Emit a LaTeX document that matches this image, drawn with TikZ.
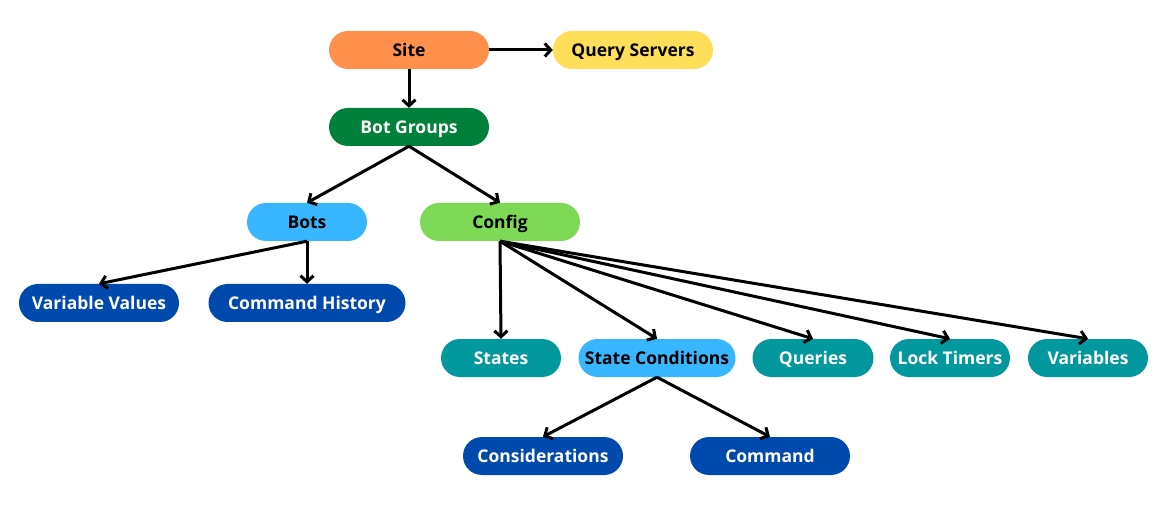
\documentclass[tikz,border=0pt]{standalone}
\usepackage{fontspec}
\setmainfont{Open Sans}
\usepackage{xcolor}
\usepackage{tikz}
\usetikzlibrary{arrows.meta}

\definecolor{siteorange}{HTML}{FF914D}
\definecolor{queryyellow}{HTML}{FFDE59}
\definecolor{groupgreen}{HTML}{00803A}
\definecolor{botblue}{HTML}{38B6FF}
\definecolor{configgreen}{HTML}{7ED957}
\definecolor{darkblue}{HTML}{004AAD}
\definecolor{teal}{HTML}{03989E}

\begin{document}
\begin{tikzpicture}[x=1pt, y=-1pt,
    box/.style={rectangle, rounded corners=19pt, minimum height=38pt, minimum width=160pt,
        inner sep=0pt, text height=14pt, text depth=1.5pt,
        font=\fontsize{17.5}{20}\selectfont\bfseries},
    light/.style={box, text=black},
    dark/.style={box, text=white},
    link/.style={-{Straight Barb[length=6pt,width=13pt]}, line width=3pt, black}]
            \useasboundingbox (0,0) rectangle (1169,526);
            
            % Top row
            \node[light, fill=siteorange] (site) at (409,50) {Site};
            \node[light, fill=queryyellow] (servers) at (633,50) {Query Servers};
            \node[dark, fill=groupgreen] (groups) at (409,127) {Bot Groups};
            
            % Bots and config
            \node[light, fill=botblue, minimum width=120pt] (bots) at (307,222) {Bots};
            \node[light, fill=configgreen] (config) at (500,222) {Config};
            
            % Bot children
            \node[dark, fill=darkblue] (values) at (99,303) {Variable Values};
            \node[dark, fill=darkblue, minimum width=197pt] (history) at (307,303) {Command History};
            
            % Config children
            \node[dark, fill=teal, minimum width=120pt] (states) at (501,358) {States};
            \node[light, fill=botblue, minimum width=157pt] (conditions) at (657,358) {State Conditions};
            \node[dark, fill=teal, minimum width=121pt] (queries) at (813,358) {Queries};
            \node[dark, fill=teal, minimum width=120pt] (timers) at (950,358) {Lock Timers};
            \node[dark, fill=teal, minimum width=120pt] (variables) at (1088,358) {Variables};
            
            % Condition children
            \node[dark, fill=darkblue] (considerations) at (543,456) {Considerations};
            \node[dark, fill=darkblue] (command) at (770,456) {Command};
            
            % Connectors
            \draw[link] (site.east) -- (servers.west);
            \draw[link] (site.south) -- (groups.north);
            \draw[link] (groups.south) -- (bots.north);
            \draw[link] (groups.south) -- (config.north);
            \draw[link] (bots.south) -- (values.north);
            \draw[link] (bots.south) -- (history.north);
            \foreach \child in {states, conditions, queries, timers, variables}
                \draw[link] (config.south) -- (\child.north);
            \draw[link] (conditions.south) -- (considerations.north);
            \draw[link] (conditions.south) -- (command.north);
        \end{tikzpicture}
\end{document}
